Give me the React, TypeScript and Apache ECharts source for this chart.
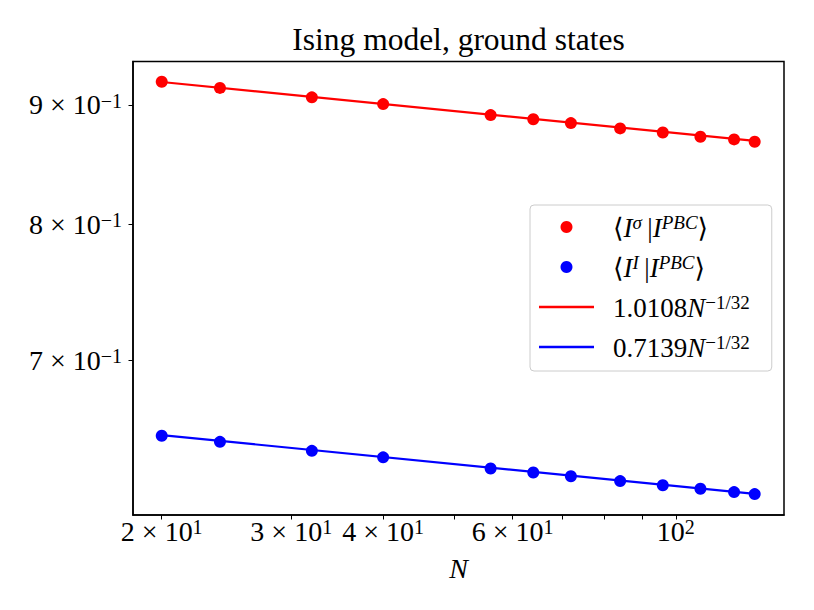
import React, { useEffect, useRef } from "react";
import * as echarts from "echarts";

// System sizes N
const sizes = [20, 24, 32, 40, 56, 64, 72, 84, 96, 108, 120, 128];
// <I^sigma | I^PBC>
const overlapSigma = [0.9207, 0.9152, 0.9067, 0.9007, 0.891, 0.8873, 0.884, 0.8794, 0.8759, 0.8722, 0.8699, 0.8679];
// <I^I | I^PBC>
const overlapIdentity = [0.6497, 0.6458, 0.6401, 0.636, 0.6291, 0.6266, 0.6243, 0.6213, 0.6188, 0.6166, 0.6146, 0.6134];
// fit lines (end points)
const fitSizes = [20, 128];
const fitSigma = [0.9205, 0.8686];
const fitIdentity = [0.6501, 0.6135];
// ticks
const xTicks = [20, 30, 40, 50, 60, 70, 80, 90, 100];
const xTickLabels = [20, 30, 40, 60, 100];
const yTicks = [0.7, 0.8, 0.9];
const xRange = [18.28, 140.3];
const yRange = [0.6009, 0.9393];

const FONT = "'Liberation Serif', 'DejaVu Serif', serif";
const BASE = 28;
const SUP = 20;
const LBASE = 27;
const LSUP = 19;

function sciLabel(v: number): string {
  const e = Math.floor(Math.log10(v) + 1e-9);
  const m = Math.round(v / Math.pow(10, e));
  const es = e < 0 ? "\u2212" + Math.abs(e) : String(e);
  if (m === 1) return `{b|10}{s|${es}}`;
  return `{b|${m} \u00d7 10}{s|${es}}`;
}

const sciRich = {
  b: { fontFamily: FONT, fontSize: BASE, lineHeight: 28, verticalAlign: "bottom", color: "#000" },
  s: { fontFamily: FONT, fontSize: SUP, lineHeight: 20, verticalAlign: "top", color: "#000" },
};

const legendRich = {
  g: { width: 14, fontSize: LBASE, fontFamily: FONT },
  t: { fontFamily: FONT, fontSize: LBASE, lineHeight: 28, verticalAlign: "bottom", color: "#000" },
  i: { fontFamily: FONT, fontSize: LBASE, fontStyle: "italic", lineHeight: 28, verticalAlign: "bottom", color: "#000" },
  s: { fontFamily: FONT, fontSize: LSUP, lineHeight: 19, verticalAlign: "top", color: "#000" },
  si: { fontFamily: FONT, fontSize: LSUP, fontStyle: "italic", lineHeight: 19, verticalAlign: "top", color: "#000" },
};

const legendText: Record<string, string> = {
  sigma: "{g|}{t|\u27e8}{i|I}{si|\u03c3}{t|\u2009|}{i|I}{si|PBC}{t|\u27e9}",
  identity: "{g|}{t|\u27e8}{i|I}{si|I}{t|\u2009|}{i|I}{si|PBC}{t|\u27e9}",
  fitS: "{g|}{t|1.0108}{i|N}{s|\u22121/32}",
  fitI: "{g|}{t|0.7139}{i|N}{s|\u22121/32}",
};

const LINE_ICON = "path://M0,0M55,12M0,4.7L55,4.7L55,7.3L0,7.3Z";

export default function App() {
  const ref = useRef<HTMLDivElement>(null);
  useEffect(() => {
    if (!ref.current) return;
    const chart = echarts.init(ref.current, undefined, { renderer: "svg" });
    chart.setOption({
      animation: false,
      backgroundColor: "#fff",
      title: {
        text: "Ising model, ground states",
        left: 458.5,
        textAlign: "center",
        top: 23,
        padding: 0,
        textStyle: { fontFamily: FONT, fontSize: 31.5, fontWeight: "normal", color: "#000" },
      },
      grid: {
        left: 133,
        right: 30,
        top: 61.5,
        bottom: 95,
        show: true,
        borderColor: "#000",
        borderWidth: 1.5,
        backgroundColor: "transparent",
        containLabel: false,
        outerBoundsMode: "none",
      },
      legend: {
        orient: "vertical",
        left: 530,
        top: 205,
        padding: [8, 22, 10, 9],
        itemGap: 12,
        itemWidth: 55,
        itemHeight: 12,
        backgroundColor: "#fff",
        borderColor: "#cccccc",
        borderWidth: 1,
        borderRadius: 4,
        itemStyle: { borderWidth: 0 },
        data: [
          { name: "sigma", icon: "circle" },
          { name: "identity", icon: "circle" },
          { name: "fitS", icon: LINE_ICON },
          { name: "fitI", icon: LINE_ICON },
        ],
        formatter: (name: string) => legendText[name],
        textStyle: { rich: legendRich },
      },
      xAxis: {
        type: "log",
        min: xRange[0],
        max: xRange[1],
        name: "N",
        nameLocation: "middle",
        nameGap: 39,
        nameTextStyle: { fontFamily: FONT, fontSize: 28, fontStyle: "italic", color: "#000" },
        axisLine: { show: true, lineStyle: { color: "#000", width: 1.5 } },
        axisTick: { show: true, length: 4.5, customValues: xTicks, lineStyle: { color: "#000", width: 1 } },
        axisLabel: {
          customValues: xTickLabels,
          margin: 2,
          formatter: (v: number) => sciLabel(v),
          rich: sciRich,
        },
        splitLine: { show: false },
        minorTick: { show: false },
      },
      yAxis: {
        type: "log",
        min: yRange[0],
        max: yRange[1],
        axisLine: { show: true, lineStyle: { color: "#000", width: 1.5 } },
        axisTick: { show: true, length: 4.5, customValues: yTicks, lineStyle: { color: "#000", width: 1 } },
        axisLabel: {
          customValues: yTicks,
          margin: 11,
          formatter: (v: number) => sciLabel(v),
          rich: sciRich,
        },
        splitLine: { show: false },
        minorTick: { show: false },
      },
      series: [
        {
          name: "fitS",
          type: "line",
          data: fitSizes.map((n, i) => [n, fitSigma[i]]),
          symbol: "none",
          lineStyle: { color: "#ff0000", width: 2.2 },
          itemStyle: { color: "#ff0000" },
          z: 2,
        },
        {
          name: "fitI",
          type: "line",
          data: fitSizes.map((n, i) => [n, fitIdentity[i]]),
          symbol: "none",
          lineStyle: { color: "#0000ff", width: 2.2 },
          itemStyle: { color: "#0000ff" },
          z: 2,
        },
        {
          name: "sigma",
          type: "scatter",
          data: sizes.map((n, i) => [n, overlapSigma[i]]),
          symbol: "circle",
          symbolSize: 12,
          itemStyle: { color: "#ff0000", opacity: 1 },
          z: 3,
        },
        {
          name: "identity",
          type: "scatter",
          data: sizes.map((n, i) => [n, overlapIdentity[i]]),
          symbol: "circle",
          symbolSize: 12,
          itemStyle: { color: "#0000ff", opacity: 1 },
          z: 3,
        },
      ],
    });
    return () => chart.dispose();
  }, []);
  return (
    <div
      ref={ref}
      style={{ position: "absolute", left: 0, top: 0, width: 814, height: 610 }}
    />
  );
}
